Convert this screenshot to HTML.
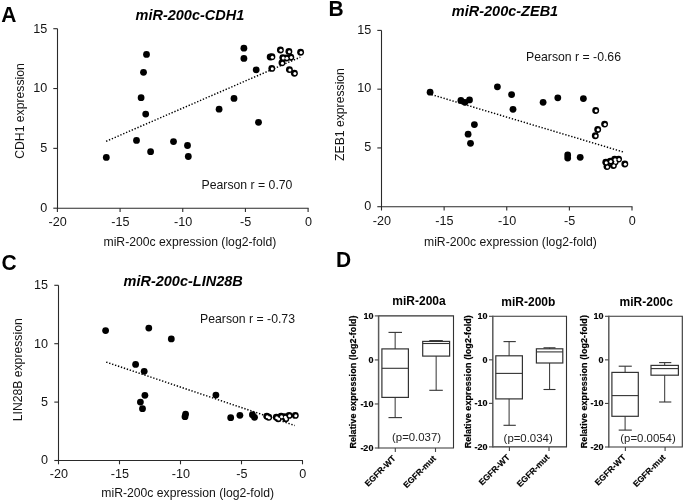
<!DOCTYPE html>
<html><head><meta charset="utf-8"><title>figure</title>
<style>
html,body{margin:0;padding:0;background:#fff;}
body{width:685px;height:501px;overflow:hidden;}
svg{display:block;font-family:"Liberation Sans", sans-serif;filter:blur(0.3px);}
</style></head>
<body>
<svg width="685" height="501" viewBox="0 0 685 501">
<rect width="685" height="501" fill="#fff"/>
<line x1="57.5" y1="28.7" x2="57.5" y2="208.7" stroke="#2a2a2a" stroke-width="1.1" />
<line x1="57.0" y1="208.2" x2="308.6" y2="208.2" stroke="#2a2a2a" stroke-width="1.1" />
<line x1="53.3" y1="28.7" x2="57.5" y2="28.7" stroke="#2a2a2a" stroke-width="1.1" />
<text x="47.2" y="32.5" font-size="12.6" text-anchor="end" font-weight="normal" font-style="normal" fill="#141414" >15</text>
<line x1="53.3" y1="88.53333333333333" x2="57.5" y2="88.53333333333333" stroke="#2a2a2a" stroke-width="1.1" />
<text x="47.2" y="92.33333333333333" font-size="12.6" text-anchor="end" font-weight="normal" font-style="normal" fill="#141414" >10</text>
<line x1="53.3" y1="148.36666666666667" x2="57.5" y2="148.36666666666667" stroke="#2a2a2a" stroke-width="1.1" />
<text x="47.2" y="152.16666666666669" font-size="12.6" text-anchor="end" font-weight="normal" font-style="normal" fill="#141414" >5</text>
<line x1="53.3" y1="208.2" x2="57.5" y2="208.2" stroke="#2a2a2a" stroke-width="1.1" />
<text x="47.2" y="212.0" font-size="12.6" text-anchor="end" font-weight="normal" font-style="normal" fill="#141414" >0</text>
<line x1="57.4" y1="208.2" x2="57.4" y2="212.0" stroke="#2a2a2a" stroke-width="1.1" />
<text x="57.699999999999996" y="226.0" font-size="12.6" text-anchor="middle" font-weight="normal" font-style="normal" fill="#141414" >-20</text>
<line x1="120.075" y1="208.2" x2="120.075" y2="212.0" stroke="#2a2a2a" stroke-width="1.1" />
<text x="120.375" y="226.0" font-size="12.6" text-anchor="middle" font-weight="normal" font-style="normal" fill="#141414" >-15</text>
<line x1="182.75" y1="208.2" x2="182.75" y2="212.0" stroke="#2a2a2a" stroke-width="1.1" />
<text x="183.05" y="226.0" font-size="12.6" text-anchor="middle" font-weight="normal" font-style="normal" fill="#141414" >-10</text>
<line x1="245.425" y1="208.2" x2="245.425" y2="212.0" stroke="#2a2a2a" stroke-width="1.1" />
<text x="245.72500000000002" y="226.0" font-size="12.6" text-anchor="middle" font-weight="normal" font-style="normal" fill="#141414" >-5</text>
<line x1="308.1" y1="208.2" x2="308.1" y2="212.0" stroke="#2a2a2a" stroke-width="1.1" />
<text x="308.40000000000003" y="226.0" font-size="12.6" text-anchor="middle" font-weight="normal" font-style="normal" fill="#141414" >0</text>
<text x="103.5" y="245.5" font-size="12.2" text-anchor="start" font-weight="normal" font-style="normal" fill="#141414" >miR-200c expression (log2-fold)</text>
<text transform="translate(24.2,111) rotate(-90)" font-size="12.2" text-anchor="middle" fill="#141414">CDH1 expression</text>
<text x="135.5" y="20" font-size="14.5" text-anchor="start" font-weight="bold" font-style="italic" fill="#000" >miR-200c-CDH1</text>
<text x="201.5" y="189.3" font-size="12.25" text-anchor="start" font-weight="normal" font-style="normal" fill="#141414" >Pearson r = 0.70</text>
<text transform="translate(1.3,21.8) scale(1,1.065)" font-size="21" font-weight="bold" fill="#000">A</text>
<line x1="106.1" y1="141.3" x2="300.3" y2="57.2" stroke="#000" stroke-width="1.45" stroke-dasharray="1.35 1.75"/>
<circle cx="106.3" cy="157.4" r="3.4" fill="#000"/>
<circle cx="136.5" cy="140.4" r="3.4" fill="#000"/>
<circle cx="150.6" cy="151.7" r="3.4" fill="#000"/>
<circle cx="173.5" cy="141.6" r="3.4" fill="#000"/>
<circle cx="187.5" cy="145.5" r="3.4" fill="#000"/>
<circle cx="188.3" cy="156.5" r="3.4" fill="#000"/>
<circle cx="141.1" cy="97.7" r="3.4" fill="#000"/>
<circle cx="143.5" cy="72.3" r="3.4" fill="#000"/>
<circle cx="146.5" cy="54.4" r="3.4" fill="#000"/>
<circle cx="145.7" cy="114.1" r="3.4" fill="#000"/>
<circle cx="219.1" cy="109.2" r="3.4" fill="#000"/>
<circle cx="234" cy="98.4" r="3.4" fill="#000"/>
<circle cx="243.9" cy="48.2" r="3.4" fill="#000"/>
<circle cx="243.9" cy="58.4" r="3.4" fill="#000"/>
<circle cx="256.2" cy="69.8" r="3.4" fill="#000"/>
<circle cx="258.5" cy="122.3" r="3.4" fill="#000"/>
<circle cx="280.4" cy="50" r="3.45" fill="#000"/>
<circle cx="288.9" cy="51.4" r="3.45" fill="#000"/>
<circle cx="300.6" cy="52.2" r="3.45" fill="#000"/>
<circle cx="271.9" cy="56.8" r="3.45" fill="#000"/>
<circle cx="282.8" cy="57.6" r="3.45" fill="#000"/>
<circle cx="286.4" cy="58" r="3.45" fill="#000"/>
<circle cx="290.8" cy="57.2" r="3.45" fill="#000"/>
<circle cx="282" cy="62.8" r="3.45" fill="#000"/>
<circle cx="271.8" cy="68.4" r="3.45" fill="#000"/>
<circle cx="289.4" cy="69.6" r="3.45" fill="#000"/>
<circle cx="294.4" cy="73.2" r="3.45" fill="#000"/>
<circle cx="270.2" cy="57.0" r="3.45" fill="#000"/>
<circle cx="280.84999999999997" cy="50.35" r="1.5" fill="#fff"/>
<circle cx="289.34999999999997" cy="51.75" r="1.5" fill="#fff"/>
<circle cx="301.05" cy="52.550000000000004" r="1.5" fill="#fff"/>
<circle cx="272.34999999999997" cy="57.15" r="1.5" fill="#fff"/>
<circle cx="283.25" cy="57.95" r="1.5" fill="#fff"/>
<circle cx="286.84999999999997" cy="58.35" r="1.5" fill="#fff"/>
<circle cx="291.25" cy="57.550000000000004" r="1.5" fill="#fff"/>
<circle cx="282.45" cy="63.15" r="1.5" fill="#fff"/>
<circle cx="272.25" cy="68.75" r="1.5" fill="#fff"/>
<circle cx="289.84999999999997" cy="69.94999999999999" r="1.5" fill="#fff"/>
<circle cx="294.84999999999997" cy="73.55" r="1.5" fill="#fff"/>
<line x1="381.5" y1="30.4" x2="381.5" y2="207.2" stroke="#2a2a2a" stroke-width="1.1" />
<line x1="381.0" y1="206.7" x2="632.5" y2="206.7" stroke="#2a2a2a" stroke-width="1.1" />
<line x1="377.3" y1="30.4" x2="381.5" y2="30.4" stroke="#2a2a2a" stroke-width="1.1" />
<text x="371.3" y="33.5" font-size="12.6" text-anchor="end" font-weight="normal" font-style="normal" fill="#141414" >15</text>
<line x1="377.3" y1="89.16666666666666" x2="381.5" y2="89.16666666666666" stroke="#2a2a2a" stroke-width="1.1" />
<text x="371.3" y="92.26666666666665" font-size="12.6" text-anchor="end" font-weight="normal" font-style="normal" fill="#141414" >10</text>
<line x1="377.3" y1="147.9333333333333" x2="381.5" y2="147.9333333333333" stroke="#2a2a2a" stroke-width="1.1" />
<text x="371.3" y="151.0333333333333" font-size="12.6" text-anchor="end" font-weight="normal" font-style="normal" fill="#141414" >5</text>
<line x1="377.3" y1="206.7" x2="381.5" y2="206.7" stroke="#2a2a2a" stroke-width="1.1" />
<text x="371.3" y="209.79999999999998" font-size="12.6" text-anchor="end" font-weight="normal" font-style="normal" fill="#141414" >0</text>
<line x1="381.5" y1="206.7" x2="381.5" y2="210.5" stroke="#2a2a2a" stroke-width="1.1" />
<text x="381.8" y="225.0" font-size="12.6" text-anchor="middle" font-weight="normal" font-style="normal" fill="#141414" >-20</text>
<line x1="444.125" y1="206.7" x2="444.125" y2="210.5" stroke="#2a2a2a" stroke-width="1.1" />
<text x="444.425" y="225.0" font-size="12.6" text-anchor="middle" font-weight="normal" font-style="normal" fill="#141414" >-15</text>
<line x1="506.75" y1="206.7" x2="506.75" y2="210.5" stroke="#2a2a2a" stroke-width="1.1" />
<text x="507.05" y="225.0" font-size="12.6" text-anchor="middle" font-weight="normal" font-style="normal" fill="#141414" >-10</text>
<line x1="569.375" y1="206.7" x2="569.375" y2="210.5" stroke="#2a2a2a" stroke-width="1.1" />
<text x="569.675" y="225.0" font-size="12.6" text-anchor="middle" font-weight="normal" font-style="normal" fill="#141414" >-5</text>
<line x1="632.0" y1="206.7" x2="632.0" y2="210.5" stroke="#2a2a2a" stroke-width="1.1" />
<text x="632.3" y="225.0" font-size="12.6" text-anchor="middle" font-weight="normal" font-style="normal" fill="#141414" >0</text>
<text x="424.0" y="245.9" font-size="12.2" text-anchor="start" font-weight="normal" font-style="normal" fill="#141414" >miR-200c expression (log2-fold)</text>
<text transform="translate(343.6,114.5) rotate(-90)" font-size="12.2" text-anchor="middle" fill="#141414">ZEB1 expression</text>
<text x="451.8" y="15.8" font-size="14.5" text-anchor="start" font-weight="bold" font-style="italic" fill="#000" >miR-200c-ZEB1</text>
<text x="526.0" y="60.9" font-size="12.25" text-anchor="start" font-weight="normal" font-style="normal" fill="#141414" >Pearson r = -0.66</text>
<text transform="translate(328.6,15.7) scale(1,1.065)" font-size="21" font-weight="bold" fill="#000">B</text>
<line x1="431.6" y1="94.6" x2="624.3" y2="152.3" stroke="#000" stroke-width="1.45" stroke-dasharray="1.35 1.75"/>
<circle cx="430.1" cy="92.2" r="3.4" fill="#000"/>
<circle cx="460.9" cy="100.5" r="3.4" fill="#000"/>
<circle cx="464.9" cy="102.3" r="3.4" fill="#000"/>
<circle cx="469.5" cy="99.9" r="3.4" fill="#000"/>
<circle cx="474.4" cy="124.6" r="3.4" fill="#000"/>
<circle cx="468.1" cy="134.2" r="3.4" fill="#000"/>
<circle cx="470.5" cy="143.3" r="3.4" fill="#000"/>
<circle cx="497.4" cy="86.8" r="3.4" fill="#000"/>
<circle cx="511.6" cy="94.6" r="3.4" fill="#000"/>
<circle cx="513" cy="109.3" r="3.4" fill="#000"/>
<circle cx="543.1" cy="102.3" r="3.4" fill="#000"/>
<circle cx="557.8" cy="97.8" r="3.4" fill="#000"/>
<circle cx="583.4" cy="98.6" r="3.4" fill="#000"/>
<circle cx="567.7" cy="154.9" r="3.4" fill="#000"/>
<circle cx="567.7" cy="158.1" r="3.4" fill="#000"/>
<circle cx="580.2" cy="157.3" r="3.4" fill="#000"/>
<circle cx="595.7" cy="110.5" r="3.45" fill="#000"/>
<circle cx="604.6" cy="124.1" r="3.45" fill="#000"/>
<circle cx="597.7" cy="129.5" r="3.45" fill="#000"/>
<circle cx="595.3" cy="135.7" r="3.45" fill="#000"/>
<circle cx="605.8" cy="162.3" r="3.45" fill="#000"/>
<circle cx="610.3" cy="161.1" r="3.45" fill="#000"/>
<circle cx="614.6" cy="159.3" r="3.45" fill="#000"/>
<circle cx="618.6" cy="159.1" r="3.45" fill="#000"/>
<circle cx="615.1" cy="162" r="3.45" fill="#000"/>
<circle cx="607" cy="166.6" r="3.45" fill="#000"/>
<circle cx="613.4" cy="165.5" r="3.45" fill="#000"/>
<circle cx="624.8" cy="164" r="3.45" fill="#000"/>
<circle cx="596.1500000000001" cy="110.85" r="1.5" fill="#fff"/>
<circle cx="605.0500000000001" cy="124.44999999999999" r="1.5" fill="#fff"/>
<circle cx="598.1500000000001" cy="129.85" r="1.5" fill="#fff"/>
<circle cx="595.75" cy="136.04999999999998" r="1.5" fill="#fff"/>
<circle cx="606.25" cy="162.65" r="1.5" fill="#fff"/>
<circle cx="610.75" cy="161.45" r="1.5" fill="#fff"/>
<circle cx="615.0500000000001" cy="159.65" r="1.5" fill="#fff"/>
<circle cx="619.0500000000001" cy="159.45" r="1.5" fill="#fff"/>
<circle cx="615.5500000000001" cy="162.35" r="1.5" fill="#fff"/>
<circle cx="607.45" cy="166.95" r="1.5" fill="#fff"/>
<circle cx="613.85" cy="165.85" r="1.5" fill="#fff"/>
<circle cx="625.25" cy="164.35" r="1.5" fill="#fff"/>
<line x1="58.5" y1="285.3" x2="58.5" y2="461.0" stroke="#2a2a2a" stroke-width="1.1" />
<line x1="58.0" y1="460.5" x2="303.0" y2="460.5" stroke="#2a2a2a" stroke-width="1.1" />
<line x1="54.3" y1="285.3" x2="58.5" y2="285.3" stroke="#2a2a2a" stroke-width="1.1" />
<text x="48.0" y="289.1" font-size="12.6" text-anchor="end" font-weight="normal" font-style="normal" fill="#141414" >15</text>
<line x1="54.3" y1="343.7" x2="58.5" y2="343.7" stroke="#2a2a2a" stroke-width="1.1" />
<text x="48.0" y="347.5" font-size="12.6" text-anchor="end" font-weight="normal" font-style="normal" fill="#141414" >10</text>
<line x1="54.3" y1="402.1" x2="58.5" y2="402.1" stroke="#2a2a2a" stroke-width="1.1" />
<text x="48.0" y="405.90000000000003" font-size="12.6" text-anchor="end" font-weight="normal" font-style="normal" fill="#141414" >5</text>
<line x1="54.3" y1="460.5" x2="58.5" y2="460.5" stroke="#2a2a2a" stroke-width="1.1" />
<text x="48.0" y="464.3" font-size="12.6" text-anchor="end" font-weight="normal" font-style="normal" fill="#141414" >0</text>
<line x1="58.5" y1="460.5" x2="58.5" y2="464.3" stroke="#2a2a2a" stroke-width="1.1" />
<text x="58.8" y="478.1" font-size="12.6" text-anchor="middle" font-weight="normal" font-style="normal" fill="#141414" >-20</text>
<line x1="119.5" y1="460.5" x2="119.5" y2="464.3" stroke="#2a2a2a" stroke-width="1.1" />
<text x="119.8" y="478.1" font-size="12.6" text-anchor="middle" font-weight="normal" font-style="normal" fill="#141414" >-15</text>
<line x1="180.5" y1="460.5" x2="180.5" y2="464.3" stroke="#2a2a2a" stroke-width="1.1" />
<text x="180.8" y="478.1" font-size="12.6" text-anchor="middle" font-weight="normal" font-style="normal" fill="#141414" >-10</text>
<line x1="241.5" y1="460.5" x2="241.5" y2="464.3" stroke="#2a2a2a" stroke-width="1.1" />
<text x="241.8" y="478.1" font-size="12.6" text-anchor="middle" font-weight="normal" font-style="normal" fill="#141414" >-5</text>
<line x1="302.5" y1="460.5" x2="302.5" y2="464.3" stroke="#2a2a2a" stroke-width="1.1" />
<text x="302.8" y="478.1" font-size="12.6" text-anchor="middle" font-weight="normal" font-style="normal" fill="#141414" >0</text>
<text x="101.3" y="496.8" font-size="12.2" text-anchor="start" font-weight="normal" font-style="normal" fill="#141414" >miR-200c expression (log2-fold)</text>
<text transform="translate(22.3,369.8) rotate(-90)" font-size="12.2" text-anchor="middle" fill="#141414">LIN28B expression</text>
<text x="123.5" y="285.8" font-size="14.5" text-anchor="start" font-weight="bold" font-style="italic" fill="#000" >miR-200c-LIN28B</text>
<text x="200.0" y="323.2" font-size="12.25" text-anchor="start" font-weight="normal" font-style="normal" fill="#141414" >Pearson r = -0.73</text>
<text transform="translate(1.5,269.6) scale(1,1.065)" font-size="21" font-weight="bold" fill="#000">C</text>
<line x1="106.2" y1="362.1" x2="294.8" y2="425.5" stroke="#000" stroke-width="1.45" stroke-dasharray="1.35 1.75"/>
<circle cx="105.6" cy="330.6" r="3.4" fill="#000"/>
<circle cx="148.8" cy="328.1" r="3.4" fill="#000"/>
<circle cx="171.3" cy="338.9" r="3.4" fill="#000"/>
<circle cx="135.6" cy="364.4" r="3.4" fill="#000"/>
<circle cx="144.2" cy="371.3" r="3.4" fill="#000"/>
<circle cx="144.9" cy="395.3" r="3.4" fill="#000"/>
<circle cx="140.4" cy="402.1" r="3.4" fill="#000"/>
<circle cx="142.5" cy="408.7" r="3.4" fill="#000"/>
<circle cx="215.9" cy="395.1" r="3.4" fill="#000"/>
<circle cx="185.6" cy="414.1" r="3.4" fill="#000"/>
<circle cx="185" cy="416.7" r="3.4" fill="#000"/>
<circle cx="230.7" cy="417.7" r="3.4" fill="#000"/>
<circle cx="239.9" cy="415.3" r="3.4" fill="#000"/>
<circle cx="252.4" cy="414.7" r="3.4" fill="#000"/>
<circle cx="254.5" cy="417.3" r="3.4" fill="#000"/>
<circle cx="266.8" cy="416.3" r="3.45" fill="#000"/>
<circle cx="268.7" cy="417.3" r="3.45" fill="#000"/>
<circle cx="276.3" cy="417.3" r="3.45" fill="#000"/>
<circle cx="278.2" cy="418.7" r="3.45" fill="#000"/>
<circle cx="281.1" cy="416.3" r="3.45" fill="#000"/>
<circle cx="284.8" cy="416.8" r="3.45" fill="#000"/>
<circle cx="285.8" cy="418.7" r="3.45" fill="#000"/>
<circle cx="289.1" cy="415.4" r="3.45" fill="#000"/>
<circle cx="295.3" cy="415.4" r="3.45" fill="#000"/>
<circle cx="267.25" cy="416.65000000000003" r="1.5" fill="#fff"/>
<circle cx="269.15" cy="417.65000000000003" r="1.5" fill="#fff"/>
<circle cx="276.75" cy="417.65000000000003" r="1.5" fill="#fff"/>
<circle cx="278.65" cy="419.05" r="1.5" fill="#fff"/>
<circle cx="281.55" cy="416.65000000000003" r="1.5" fill="#fff"/>
<circle cx="285.25" cy="417.15000000000003" r="1.5" fill="#fff"/>
<circle cx="286.25" cy="419.05" r="1.5" fill="#fff"/>
<circle cx="289.55" cy="415.75" r="1.5" fill="#fff"/>
<circle cx="295.75" cy="415.75" r="1.5" fill="#fff"/>
<path d="M378.6 315.9 H453.5 V448.0 H378.6" fill="none" stroke="#333" stroke-width="1.1"/>
<line x1="378.6" y1="315.4" x2="378.6" y2="448.5" stroke="#5a5a5a" stroke-width="1.5" />
<line x1="374.8" y1="315.9" x2="378.6" y2="315.9" stroke="#444" stroke-width="1.1" />
<text x="373.40000000000003" y="318.9" font-size="9.0" text-anchor="end" font-weight="bold" font-style="normal" fill="#000" stroke="#000" stroke-width="0.15">10</text>
<line x1="374.8" y1="359.93333333333334" x2="378.6" y2="359.93333333333334" stroke="#444" stroke-width="1.1" />
<text x="373.40000000000003" y="362.93333333333334" font-size="9.0" text-anchor="end" font-weight="bold" font-style="normal" fill="#000" stroke="#000" stroke-width="0.15">0</text>
<line x1="374.8" y1="403.96666666666664" x2="378.6" y2="403.96666666666664" stroke="#444" stroke-width="1.1" />
<text x="373.40000000000003" y="406.96666666666664" font-size="9.0" text-anchor="end" font-weight="bold" font-style="normal" fill="#000" stroke="#000" stroke-width="0.15">-10</text>
<line x1="374.8" y1="448.0" x2="378.6" y2="448.0" stroke="#444" stroke-width="1.1" />
<text x="373.40000000000003" y="451.0" font-size="9.0" text-anchor="end" font-weight="bold" font-style="normal" fill="#000" stroke="#000" stroke-width="0.15">-20</text>
<line x1="395.3" y1="448.0" x2="395.3" y2="452.0" stroke="#444" stroke-width="1.1" />
<line x1="435.5" y1="448.0" x2="435.5" y2="452.0" stroke="#444" stroke-width="1.1" />
<text x="392.3" y="305.2" font-size="12" text-anchor="start" font-weight="bold" font-style="normal" fill="#000" >miR-200a</text>
<text transform="translate(356.0,382.0) rotate(-90)" font-size="8.95" font-weight="bold" text-anchor="middle" fill="#000" stroke="#000" stroke-width="0.22" letter-spacing="0.1">Relative expression (log2-fold)</text>
<text transform="translate(396.3,458.9) rotate(-45)" font-size="8.5" font-weight="bold" text-anchor="end" fill="#000" stroke="#000" stroke-width="0.15">EGFR-WT</text>
<text transform="translate(436.5,458.9) rotate(-45)" font-size="8.5" font-weight="bold" text-anchor="end" fill="#000" stroke="#000" stroke-width="0.15">EGFR-mut</text>
<text x="392.0" y="441.2" font-size="11.4" text-anchor="start" font-weight="normal" font-style="normal" fill="#222" >(p=0.037)</text>
<rect x="381.9" y="348.9" width="26.5" height="48.5" fill="none" stroke="#333" stroke-width="1.2"/>
<line x1="381.9" y1="368.3" x2="408.4" y2="368.3" stroke="#333" stroke-width="1.1" />
<line x1="395.15" y1="332.4" x2="395.15" y2="348.9" stroke="#333" stroke-width="1.0" />
<line x1="395.15" y1="397.4" x2="395.15" y2="417.6" stroke="#333" stroke-width="1.0" />
<line x1="388.5" y1="332.4" x2="402.0" y2="332.4" stroke="#333" stroke-width="1.1" />
<line x1="388.5" y1="417.6" x2="402.0" y2="417.6" stroke="#333" stroke-width="1.1" />
<rect x="422.7" y="341.4" width="26.900000000000034" height="14.700000000000045" fill="none" stroke="#333" stroke-width="1.2"/>
<line x1="422.7" y1="343.5" x2="449.6" y2="343.5" stroke="#333" stroke-width="1.1" />
<line x1="436.15" y1="340.6" x2="436.15" y2="341.4" stroke="#333" stroke-width="1.0" />
<line x1="436.15" y1="356.1" x2="436.15" y2="390.3" stroke="#333" stroke-width="1.0" />
<line x1="429.3" y1="340.6" x2="442.8" y2="340.6" stroke="#333" stroke-width="1.1" />
<line x1="429.3" y1="390.3" x2="442.8" y2="390.3" stroke="#333" stroke-width="1.1" />
<path d="M492.8 316.3 H566.5 V446.9 H492.8" fill="none" stroke="#333" stroke-width="1.1"/>
<line x1="492.8" y1="315.8" x2="492.8" y2="447.4" stroke="#5a5a5a" stroke-width="1.5" />
<line x1="489.0" y1="316.3" x2="492.8" y2="316.3" stroke="#444" stroke-width="1.1" />
<text x="487.6" y="319.3" font-size="9.0" text-anchor="end" font-weight="bold" font-style="normal" fill="#000" stroke="#000" stroke-width="0.15">10</text>
<line x1="489.0" y1="359.8333333333333" x2="492.8" y2="359.8333333333333" stroke="#444" stroke-width="1.1" />
<text x="487.6" y="362.8333333333333" font-size="9.0" text-anchor="end" font-weight="bold" font-style="normal" fill="#000" stroke="#000" stroke-width="0.15">0</text>
<line x1="489.0" y1="403.3666666666667" x2="492.8" y2="403.3666666666667" stroke="#444" stroke-width="1.1" />
<text x="487.6" y="406.3666666666667" font-size="9.0" text-anchor="end" font-weight="bold" font-style="normal" fill="#000" stroke="#000" stroke-width="0.15">-10</text>
<line x1="489.0" y1="446.9" x2="492.8" y2="446.9" stroke="#444" stroke-width="1.1" />
<text x="487.6" y="449.9" font-size="9.0" text-anchor="end" font-weight="bold" font-style="normal" fill="#000" stroke="#000" stroke-width="0.15">-20</text>
<line x1="509.4" y1="446.9" x2="509.4" y2="450.9" stroke="#444" stroke-width="1.1" />
<line x1="549.0" y1="446.9" x2="549.0" y2="450.9" stroke="#444" stroke-width="1.1" />
<text x="501.3" y="306.1" font-size="12" text-anchor="start" font-weight="bold" font-style="normal" fill="#000" >miR-200b</text>
<text transform="translate(470.8,381.7) rotate(-90)" font-size="8.95" font-weight="bold" text-anchor="middle" fill="#000" stroke="#000" stroke-width="0.22" letter-spacing="0.1">Relative expression (log2-fold)</text>
<text transform="translate(510.4,457.79999999999995) rotate(-45)" font-size="8.5" font-weight="bold" text-anchor="end" fill="#000" stroke="#000" stroke-width="0.15">EGFR-WT</text>
<text transform="translate(550.0,457.79999999999995) rotate(-45)" font-size="8.5" font-weight="bold" text-anchor="end" fill="#000" stroke="#000" stroke-width="0.15">EGFR-mut</text>
<text x="503.6" y="441.9" font-size="11.4" text-anchor="start" font-weight="normal" font-style="normal" fill="#222" >(p=0.034)</text>
<rect x="495.8" y="355.8" width="26.599999999999966" height="43.099999999999966" fill="none" stroke="#333" stroke-width="1.2"/>
<line x1="495.8" y1="373.4" x2="522.4" y2="373.4" stroke="#333" stroke-width="1.1" />
<line x1="509.1" y1="341.6" x2="509.1" y2="355.8" stroke="#333" stroke-width="1.0" />
<line x1="509.1" y1="398.9" x2="509.1" y2="425.3" stroke="#333" stroke-width="1.0" />
<line x1="503.5" y1="341.6" x2="515.8" y2="341.6" stroke="#333" stroke-width="1.1" />
<line x1="503.5" y1="425.3" x2="515.8" y2="425.3" stroke="#333" stroke-width="1.1" />
<rect x="536.4" y="348.8" width="26.399999999999977" height="14.199999999999989" fill="none" stroke="#333" stroke-width="1.2"/>
<line x1="536.4" y1="351.9" x2="562.8" y2="351.9" stroke="#333" stroke-width="1.1" />
<line x1="549.5999999999999" y1="347.8" x2="549.5999999999999" y2="348.8" stroke="#333" stroke-width="1.0" />
<line x1="549.5999999999999" y1="363.0" x2="549.5999999999999" y2="389.5" stroke="#333" stroke-width="1.0" />
<line x1="543.5" y1="347.8" x2="555.5" y2="347.8" stroke="#333" stroke-width="1.1" />
<line x1="543.5" y1="389.5" x2="555.5" y2="389.5" stroke="#333" stroke-width="1.1" />
<path d="M608.8 316.3 H682.3 V447.0 H608.8" fill="none" stroke="#333" stroke-width="1.1"/>
<line x1="608.8" y1="315.8" x2="608.8" y2="447.5" stroke="#5a5a5a" stroke-width="1.5" />
<line x1="605.0" y1="316.3" x2="608.8" y2="316.3" stroke="#444" stroke-width="1.1" />
<text x="603.5999999999999" y="319.3" font-size="9.0" text-anchor="end" font-weight="bold" font-style="normal" fill="#000" stroke="#000" stroke-width="0.15">10</text>
<line x1="605.0" y1="359.8666666666667" x2="608.8" y2="359.8666666666667" stroke="#444" stroke-width="1.1" />
<text x="603.5999999999999" y="362.8666666666667" font-size="9.0" text-anchor="end" font-weight="bold" font-style="normal" fill="#000" stroke="#000" stroke-width="0.15">0</text>
<line x1="605.0" y1="403.43333333333334" x2="608.8" y2="403.43333333333334" stroke="#444" stroke-width="1.1" />
<text x="603.5999999999999" y="406.43333333333334" font-size="9.0" text-anchor="end" font-weight="bold" font-style="normal" fill="#000" stroke="#000" stroke-width="0.15">-10</text>
<line x1="605.0" y1="447.0" x2="608.8" y2="447.0" stroke="#444" stroke-width="1.1" />
<text x="603.5999999999999" y="450.0" font-size="9.0" text-anchor="end" font-weight="bold" font-style="normal" fill="#000" stroke="#000" stroke-width="0.15">-20</text>
<line x1="625.4" y1="447.0" x2="625.4" y2="451.0" stroke="#444" stroke-width="1.1" />
<line x1="665.1" y1="447.0" x2="665.1" y2="451.0" stroke="#444" stroke-width="1.1" />
<text x="619.6" y="306.0" font-size="12" text-anchor="start" font-weight="bold" font-style="normal" fill="#000" >miR-200c</text>
<text transform="translate(586.5,381.6) rotate(-90)" font-size="8.95" font-weight="bold" text-anchor="middle" fill="#000" stroke="#000" stroke-width="0.22" letter-spacing="0.1">Relative expression (log2-fold)</text>
<text transform="translate(626.4,457.9) rotate(-45)" font-size="8.5" font-weight="bold" text-anchor="end" fill="#000" stroke="#000" stroke-width="0.15">EGFR-WT</text>
<text transform="translate(666.1,457.9) rotate(-45)" font-size="8.5" font-weight="bold" text-anchor="end" fill="#000" stroke="#000" stroke-width="0.15">EGFR-mut</text>
<text x="620.3" y="441.9" font-size="11.4" text-anchor="start" font-weight="normal" font-style="normal" fill="#222" >(p=0.0054)</text>
<rect x="611.9" y="372.4" width="26.399999999999977" height="43.900000000000034" fill="none" stroke="#333" stroke-width="1.2"/>
<line x1="611.9" y1="395.6" x2="638.3" y2="395.6" stroke="#333" stroke-width="1.1" />
<line x1="625.0999999999999" y1="366.2" x2="625.0999999999999" y2="372.4" stroke="#333" stroke-width="1.0" />
<line x1="625.0999999999999" y1="416.3" x2="625.0999999999999" y2="430.1" stroke="#333" stroke-width="1.0" />
<line x1="618.7" y1="366.2" x2="631.8" y2="366.2" stroke="#333" stroke-width="1.1" />
<line x1="618.7" y1="430.1" x2="631.8" y2="430.1" stroke="#333" stroke-width="1.1" />
<rect x="651.0" y="365.4" width="27.399999999999977" height="9.800000000000011" fill="none" stroke="#333" stroke-width="1.2"/>
<line x1="651.0" y1="368.6" x2="678.4" y2="368.6" stroke="#333" stroke-width="1.1" />
<line x1="664.7" y1="362.6" x2="664.7" y2="365.4" stroke="#333" stroke-width="1.0" />
<line x1="664.7" y1="375.2" x2="664.7" y2="402.0" stroke="#333" stroke-width="1.0" />
<line x1="659.1" y1="362.6" x2="671.3" y2="362.6" stroke="#333" stroke-width="1.1" />
<line x1="659.1" y1="402.0" x2="671.3" y2="402.0" stroke="#333" stroke-width="1.1" />
<text transform="translate(335.9,267.3) scale(1,1.065)" font-size="21" font-weight="bold" fill="#000">D</text>
</svg>
</body></html>
